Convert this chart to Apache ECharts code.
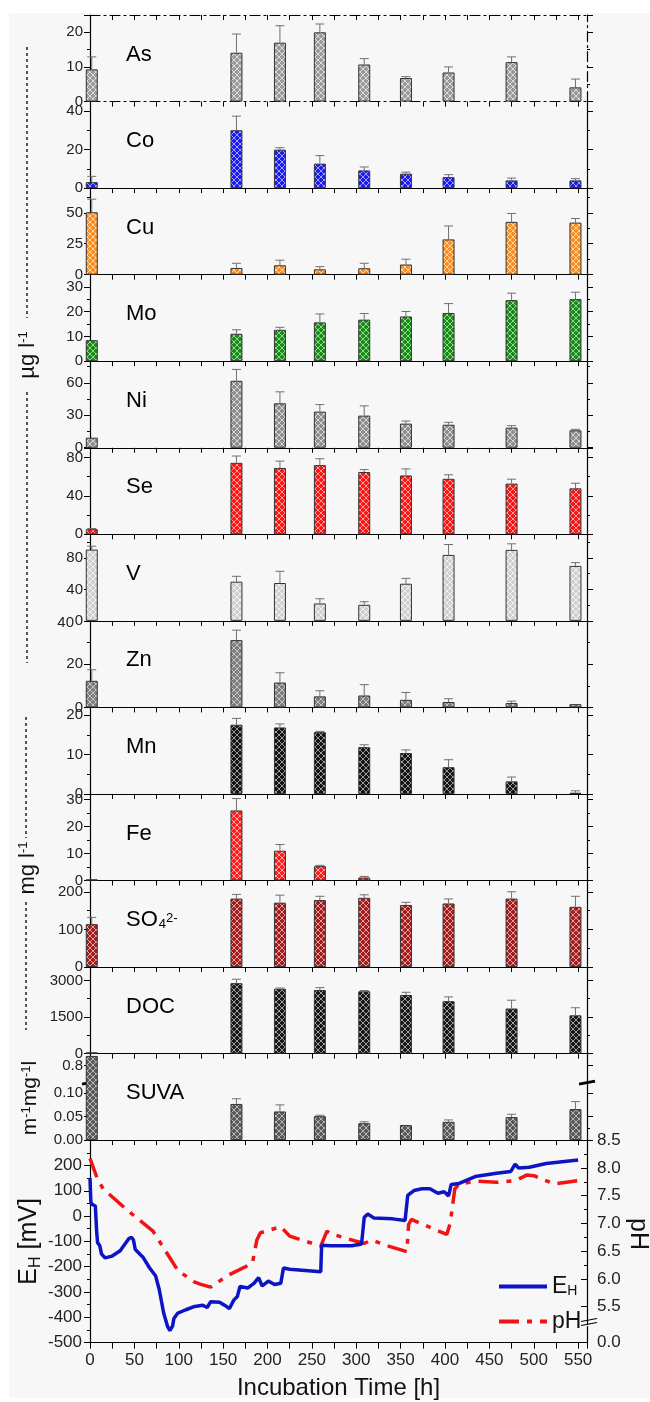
<!DOCTYPE html>
<html>
<head>
<meta charset="utf-8">
<script src="https://cdn.jsdelivr.net/npm/echarts@6/dist/echarts.min.js"></script>
<style>
html, body { margin: 0; padding: 0; background: #fff; }
#bg { position: absolute; left: 9px; top: 13px; width: 641px; height: 1385px; background: #f7f7f7; }
#main { position: absolute; left: 0; top: 0; width: 650px; height: 1402px; }
</style>
</head>
<body>
<div id="bg"></div>
<div id="main"></div>
<script>
// sampling times [h]
var times = [2, 165, 214, 259, 309, 356, 404, 475, 547];

// concentrations (mean) and standard deviations
var asVal = [9.3, 14.1, 17.0, 20.0, 10.7, 6.8, 8.4, 11.4, 4.1];
var asErr = [3.6, 5.4, 4.9, 2.4, 1.7, 0.4, 1.6, 1.5, 2.4];
var coVal = [3.1, 30.1, 20.0, 12.7, 9.2, 7.5, 5.7, 4.0, 4.0];
var coErr = [3.0, 7.3, 1.0, 4.2, 1.8, 0.8, 1.3, 1.2, 0.9];
var cuVal = [50.5, 5.4, 7.6, 4.3, 5.2, 8.2, 28.5, 42.7, 42.1];
var cuErr = [10.5, 3.8, 4.1, 2.2, 4.0, 4.3, 10.9, 6.8, 3.3];
var moVal = [8.5, 11.1, 12.7, 15.7, 16.8, 18.1, 19.5, 24.7, 25.1];
var moErr = [0, 1.6, 1.0, 3.4, 2.5, 2.0, 3.8, 2.8, 2.8];
var niVal = [9.3, 61.9, 41.1, 33.4, 29.7, 22.3, 21.3, 18.6, 16.1];
var niErr = [0, 10.5, 10.6, 6.5, 9.0, 2.4, 2.2, 1.8, 0.9];
var seVal = [5.3, 74.3, 69.0, 71.9, 64.8, 61.2, 57.7, 52.7, 47.8];
var seErr = [0.7, 7.1, 7.1, 6.7, 2.5, 6.8, 4.2, 4.6, 5.3];
var vVal = [90.6, 49.8, 48.1, 22.1, 20.4, 47.2, 83.8, 90.2, 69.8];
var vErr = [4.3, 6.8, 14.9, 6.0, 3.9, 6.8, 13.2, 7.7, 4.2];
var znVal = [12.3, 31.1, 11.5, 5.1, 5.5, 3.5, 2.5, 2.0, 1.5];
var znErr = [5.1, 4.6, 4.5, 2.6, 5.0, 3.4, 1.5, 0.9, 0];
var mnVal = [0, 17.6, 16.9, 15.7, 11.9, 10.4, 6.8, 3.2, 0.3];
var mnErr = [0, 1.6, 0.9, 0.2, 0.6, 0.8, 1.9, 1.1, 0.5];
var feVal = [0.4, 25.9, 11.0, 5.3, 1.1, 0, 0, 0, 0];
var feErr = [0, 4.4, 2.3, 0.3, 0.4, 0, 0, 0, 0];
var so4Val = [114, 182, 171, 178, 184, 165, 169, 182, 160];
var so4Err = [18, 11, 20, 10, 8, 7, 12, 18, 28];
var docVal = [50, 2890, 2660, 2610, 2555, 2405, 2150, 1850, 1570];
var docErr = [0, 160, 30, 95, 30, 110, 175, 340, 310];
var suvaVal = [0.82, 0.077, 0.061, 0.051, 0.036, 0.032, 0.039, 0.049, 0.066];
var suvaErr = [0, 0.011, 0.014, 0.002, 0.003, 0, 0.004, 0.006, 0.016];

// redox potential and pH logs
var ehTime = [0, 1, 3, 6, 7.5, 8.5, 11, 13, 17, 25, 34, 39, 44, 47, 49, 51, 60, 67, 74, 78, 83, 87.5, 90, 93, 94.5, 99, 108, 118, 127, 132, 136, 146, 153, 157, 162, 166, 169, 178, 185, 190, 194, 201, 208, 215, 218, 225, 239, 260, 261, 271, 295, 306, 309, 313, 320, 341, 355, 358, 365, 374, 383, 392, 399, 404, 407, 416, 434, 458, 474, 479, 483, 495, 514, 532, 550];
var ehVal = [150, 55, 45, 40, -60, -104, -117, -150, -165, -158, -137, -112, -88, -84, -95, -132, -164, -204, -237, -290, -383, -437, -452, -435, -405, -383, -370, -357, -352, -361, -338, -340, -355, -366, -332, -318, -278, -284, -265, -243, -276, -257, -270, -265, -205, -210, -214, -220, -115, -117, -117, -110, -5, 8, -8, -11, -17, 82, 101, 108, 108, 90, 96, 80, 125, 129, 156, 169, 176, 205, 190, 193, 208, 215, 222];
var phTime = [0, 8.4, 15, 39, 48, 71, 99, 118, 125, 136, 155, 183, 188, 192, 215, 225, 260, 267, 272, 304, 309, 318, 332, 357, 359, 362, 402, 406, 411, 416, 435, 458, 479, 492, 500, 523, 550];
var phVal = [8.17, 7.8, 7.62, 7.28, 7.16, 6.86, 6.15, 5.94, 5.9, 5.85, 6.06, 6.28, 6.7, 6.83, 6.94, 6.77, 6.59, 6.86, 6.81, 6.66, 6.64, 6.7, 6.61, 6.49, 6.98, 7.07, 6.8, 7.01, 7.62, 7.71, 7.76, 7.74, 7.77, 7.87, 7.86, 7.71, 7.77];

// tick labels of the broken axes
var suvaTicks = [0, 0.05, 0.1, 0.8];
var phTicks = [0, 5.5, 6, 6.5, 7, 7.5, 8, 8.5];

var panels = [
    {label: 'As', val: asVal, err: asErr, max: 25, step: 10, base: '#9a9a9a', line: '#dcdcdc'},
    {label: 'Co', val: coVal, err: coErr, max: 45, step: 20, base: '#1c1cf0', line: '#a0a0ff'},
    {label: 'Cu', val: cuVal, err: cuErr, max: 70, step: 25, base: '#ff8c1e', line: '#ffd8a8'},
    {label: 'Mo', val: moVal, err: moErr, max: 35, step: 10, base: '#1a8a1a', line: '#90d890'},
    {label: 'Ni', val: niVal, err: niErr, max: 80, step: 30, base: '#8e8e8e', line: '#d6d6d6'},
    {label: 'Se', val: seVal, err: seErr, max: 90, step: 40, base: '#ff1414', line: '#ffa0a0'},
    {label: 'V', val: vVal, err: vErr, max: 110, step: 40, base: '#cfcfcf', line: '#f2f2f2'},
    {label: 'Zn', val: znVal, err: znErr, max: 40, step: 20, base: '#7e7e7e', line: '#c4c4c4', showMax: true},
    {label: 'Mn', val: mnVal, err: mnErr, max: 22, step: 10, base: '#141414', line: '#9a9a9a'},
    {label: 'Fe', val: feVal, err: feErr, max: 32, step: 10, base: '#ff1c1c', line: '#ffa8a8'},
    {label: 'SO{sub|4}{sup|2-}', val: so4Val, err: so4Err, max: 230, step: 100, base: '#a51c1c', line: '#e0a0a0'},
    {label: 'DOC', val: docVal, err: docErr, max: 3550, step: 1500, base: '#181818', line: '#a0a0a0'},
    {label: 'SUVA', val: suvaVal, err: suvaErr, max: 0.825, step: 0.05, base: '#5a5a5a', line: '#b8b8b8', suva: true}
];

var FONT = 'Liberation Sans, Arial, sans-serif';
var LEFT = 90, RIGHT = 63, TOP0 = 15, PH = 86.55;
var BOT_TOP = TOP0 + PH * panels.length, BOT_H = 202.5;

function hatch(base, line) {
    var c = document.createElement('canvas');
    c.width = 6; c.height = 6;
    var g = c.getContext('2d');
    g.fillStyle = base;
    g.fillRect(0, 0, 6, 6);
    g.strokeStyle = line;
    g.lineWidth = 1;
    g.beginPath();
    g.moveTo(0, 0); g.lineTo(6, 6);
    g.moveTo(6, 0); g.lineTo(0, 6);
    g.stroke();
    return {image: c, repeat: 'repeat'};
}

function errorBars(params, api) {
    var x = api.value(0);
    var p0 = api.coord([x, api.value(1)]);
    var p1 = api.coord([x, api.value(2)]);
    var st = {stroke: '#707070', lineWidth: 1};
    return {
        type: 'group',
        children: [
            {type: 'line', shape: {x1: p0[0], y1: p0[1], x2: p1[0], y2: p1[1]}, style: st},
            {type: 'line', shape: {x1: p1[0] - 4.5, y1: p1[1], x2: p1[0] + 4.5, y2: p1[1]}, style: st}
        ]
    };
}

function plain(v) { return String(v); }

var axisColor = '#000';
var grids = [], xAxes = [], yAxes = [], series = [], graphics = [];

panels.forEach(function (p, i) {
    var top = TOP0 + i * PH;
    var dash = i === 0 ? [10, 4, 2, 4] : 'solid';
    grids.push({left: LEFT, right: RIGHT, top: top, height: PH, outerBoundsMode: 'none'});
    xAxes.push({
        gridIndex: i, type: 'value', min: 0, max: 560, interval: 25,
        axisLine: {onZero: false, lineStyle: {color: axisColor, width: 1.2, type: dash}},
        axisTick: {length: 5, lineStyle: {color: axisColor}},
        axisLabel: {show: false}, splitLine: {show: false}
    });
    var yl = {
        gridIndex: i, type: 'value', min: 0, max: p.max, interval: p.step,
        axisLine: {show: true, onZero: false, lineStyle: {color: axisColor, width: 1.2}},
        axisTick: {show: true, length: 6, lineStyle: {color: axisColor}},
        minorTick: {show: true, splitNumber: 2, length: 3, lineStyle: {color: axisColor}},
        axisLabel: {fontSize: 15, color: '#222', margin: 7, fontFamily: FONT,
            showMaxLabel: !!p.showMax, formatter: plain},
        splitLine: {show: false}
    };
    if (p.showMax) {
        // top label sits beside the "0" of the panel above
        yl.axisLabel.formatter = function (v) { return v === p.max ? '{pad|' + v + '}' : String(v); };
        yl.axisLabel.rich = {pad: {fontSize: 15, fontFamily: FONT, color: '#222', padding: [4, 9, 0, 0]}};
    }
    var yr = {
        gridIndex: i, type: 'value', position: 'right', min: 0, max: p.max, interval: p.step,
        axisLine: {show: true, onZero: false, lineStyle: {color: axisColor, width: 1.2, type: dash}},
        axisTick: {show: true, length: 6, lineStyle: {color: axisColor}},
        minorTick: {show: true, splitNumber: 2, length: 3, lineStyle: {color: axisColor}},
        axisLabel: {show: false}, splitLine: {show: false}
    };
    if (p.suva) {
        var brk = [{start: 0.118, end: 0.762, gap: 0.003}];
        yl.breaks = brk; yr.breaks = brk;
        yl.breakArea = {show: false}; yr.breakArea = {show: false};
        yl.breakLabelLayout = {moveOverlap: false};
        yl.axisLabel.customValues = suvaTicks;
        yl.axisLabel.showMaxLabel = true;
        yl.axisLabel.showMinLabel = true;
        yl.axisTick.customValues = suvaTicks;
        yr.axisTick.customValues = suvaTicks;
        yl.axisLabel.formatter = function (v) { return v > 0.5 ? v.toFixed(1) : v.toFixed(2); };
    }
    yAxes.push(yl, yr);

    var bars = [], errs = [];
    times.forEach(function (t, k) {
        if (p.val[k] > 0) bars.push([t, p.val[k]]);
        if (p.err[k] > 0) errs.push([t, p.val[k], p.val[k] + p.err[k]]);
    });
    series.push({
        type: 'bar', xAxisIndex: i, yAxisIndex: 2 * i, barWidth: 12, clip: true,
        itemStyle: {color: hatch(p.base, p.line), borderColor: '#333', borderWidth: 1},
        data: bars
    });
    series.push({
        type: 'custom', xAxisIndex: i, yAxisIndex: 2 * i, renderItem: errorBars,
        data: errs, z: 3
    });
    graphics.push({
        type: 'text', left: 126, top: top + PH * 0.48 - 13,
        style: {
            text: p.label, fill: '#000', font: '22px ' + FONT,
            rich: {
                sub: {fontSize: 13, fontFamily: FONT, verticalAlign: 'bottom', lineHeight: 13, padding: [0, 0, 0, 1]},
                sup: {fontSize: 13, fontFamily: FONT, verticalAlign: 'top', lineHeight: 13, padding: [3, 0, 0, 0]}
            }
        }
    });
});

// bottom panel: E_H and pH
var bi = panels.length;
grids.push({left: LEFT, right: RIGHT, top: BOT_TOP, height: BOT_H, outerBoundsMode: 'none'});
xAxes.push({
    gridIndex: bi, type: 'value', min: 0, max: 560, interval: 25,
    axisLine: {onZero: false, lineStyle: {color: axisColor, width: 1.2}},
    axisTick: {length: 6, lineStyle: {color: axisColor}},
    axisLabel: {fontSize: 17, color: '#222', fontFamily: FONT, margin: 9,
        formatter: function (v) { return v % 50 === 0 ? String(v) : ''; }},
    splitLine: {show: false},
    name: 'Incubation Time [h]', nameLocation: 'middle', nameGap: 34,
    nameTextStyle: {fontSize: 24, color: '#111', fontFamily: FONT}
});
// top border of the As panel
xAxes.push({
    gridIndex: 0, type: 'value', position: 'top', min: 0, max: 560, interval: 25,
    axisLine: {onZero: false, lineStyle: {color: axisColor, width: 1.2, type: [10, 4, 2, 4]}},
    axisTick: {inside: true, length: 5, lineStyle: {color: axisColor}},
    axisLabel: {show: false}, splitLine: {show: false}
});
yAxes.push({
    gridIndex: bi, type: 'value', min: -500, max: 300, interval: 100,
    axisLine: {show: true, onZero: false, lineStyle: {color: axisColor, width: 1.2}},
    axisTick: {show: true, length: 6, lineStyle: {color: axisColor}},
    minorTick: {show: true, splitNumber: 2, length: 3, lineStyle: {color: axisColor}},
    axisLabel: {fontSize: 17, color: '#222', fontFamily: FONT, margin: 8, showMaxLabel: false, formatter: plain},
    splitLine: {show: false},
    name: 'E{sub|H} [mV]', nameLocation: 'middle', nameGap: 46, nameMoveOverlap: false,
    nameTextStyle: {fontSize: 25, color: '#111', fontFamily: FONT, lineHeight: 30,
        rich: {sub: {fontSize: 16, fontFamily: FONT, verticalAlign: 'bottom', lineHeight: 16}}}
});
yAxes.push({
    gridIndex: bi, type: 'value', position: 'right', min: 0, max: 8.5, interval: 0.5,
    breaks: [{start: 0.3, end: 5.18, gap: 0.03}], breakArea: {show: false},
    axisLine: {show: true, onZero: false, lineStyle: {color: axisColor, width: 1.2}},
    axisTick: {show: true, inside: true, length: 6, lineStyle: {color: axisColor}, customValues: phTicks},
    minorTick: {show: true, splitNumber: 2, length: 3, lineStyle: {color: axisColor}},
    axisLabel: {fontSize: 17, color: '#222', fontFamily: FONT, margin: 10, customValues: phTicks,
        formatter: function (v) { return v.toFixed(1); }},
    splitLine: {show: false}
});

series.push({
    name: 'EH', type: 'line', xAxisIndex: bi, yAxisIndex: 2 * bi, symbol: 'none',
    lineStyle: {color: '#0c14c4', width: 3.5}, itemStyle: {color: '#0c14c4'},
    data: ehTime.map(function (t, k) { return [t, ehVal[k]]; }), z: 4
});
series.push({
    name: 'pH', type: 'line', xAxisIndex: bi, yAxisIndex: 2 * bi + 1, symbol: 'none',
    lineStyle: {color: '#f01414', width: 3.5, type: [20, 8, 5, 8]}, itemStyle: {color: '#f01414'},
    data: phTime.map(function (t, k) { return [t, phVal[k]]; }), z: 3
});

// axis titles
function vText(x, y, text, size, rot) {
    return {
        type: 'text', x: x, y: y, rotation: rot === undefined ? Math.PI / 2 : rot,
        style: {
            text: text, fill: '#111', font: size + 'px ' + FONT, align: 'center', verticalAlign: 'middle',
            rich: {sup: {fontSize: 13, fontFamily: FONT, verticalAlign: 'top', lineHeight: 13}}
        }
    };
}
function dashV(x, y1, y2) {
    return {type: 'line', shape: {x1: x, y1: y1, x2: x, y2: y2},
        style: {stroke: '#222', lineWidth: 1.5, lineDash: [3, 3]}};
}
graphics.push(dashV(27, 47, 318), dashV(27, 392, 663), vText(28, 355, 'µg l{sup|-1}', 22));
graphics.push(dashV(26, 717, 838), dashV(26, 902, 1030), vText(28, 868, 'mg l{sup|-1}', 22));
graphics.push(vText(30, 1098, 'm{sup|-1}mg{sup|-1}l', 21));
graphics.push(vText(638, 1234, 'pH', 25, -Math.PI / 2));

var chart = echarts.init(document.getElementById('main'));
chart.setOption({
    animation: false,
    textStyle: {fontFamily: FONT},
    grid: grids,
    xAxis: xAxes,
    yAxis: yAxes,
    series: series,
    legend: {
        data: ['EH', 'pH'], orient: 'vertical', left: 492, top: 1270,
        itemWidth: 48, itemHeight: 14, itemGap: 12,
        itemStyle: {opacity: 0},
        lineStyle: {width: 4},
        textStyle: {fontSize: 23, color: '#111', fontFamily: FONT,
            rich: {s: {fontSize: 14, fontFamily: FONT, verticalAlign: 'bottom', lineHeight: 14}}},
        formatter: function (n) { return n === 'EH' ? 'E{s|H}' : 'pH'; }
    }
});

// break marks on the SUVA and pH axes
var si = 2 * (panels.length - 1);
var ySuva = chart.convertToPixel({yAxisIndex: si}, 0.118);
var yPh = chart.convertToPixel({yAxisIndex: 2 * bi + 1}, 0.3);
var xR = 650 - RIGHT;
function mark(x, y, w) {
    return {type: 'line', shape: {x1: x - 8, y1: y + 1.5, x2: x + 8, y2: y - 1.5},
        style: {stroke: '#000', lineWidth: w}};
}
if (isFinite(ySuva)) graphics.push(mark(LEFT, ySuva - 2, 3), mark(xR, ySuva - 2, 3));
if (isFinite(yPh)) graphics.push(mark(xR + 2, yPh - 2, 1.2), mark(xR + 2, yPh - 6, 1.2));
chart.setOption({graphic: graphics});
</script>
</body>
</html>
